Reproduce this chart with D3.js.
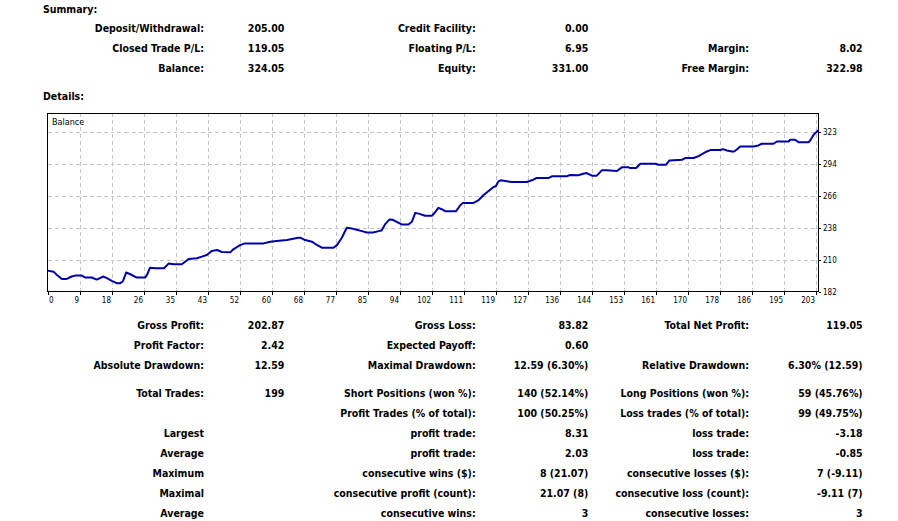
<!DOCTYPE html>
<html>
<head>
<meta charset="utf-8">
<script src="https://cdn.jsdelivr.net/npm/d3@7"></script>
<style>
  body { margin: 0; background: #fff; }
  text { fill: #000; }
  .bold { font-family: "DejaVu Sans Condensed", "DejaVu Sans", sans-serif; font-stretch: condensed; font-weight: bold; font-size: 10.5px; }
  .small { font-family: "DejaVu Sans Condensed", "DejaVu Sans", sans-serif; font-stretch: condensed; font-size: 8px; }
  .axis path, .axis line { stroke: #000; shape-rendering: crispEdges; }
  .grid line { stroke: #c4c4c4; stroke-dasharray: 4,3; shape-rendering: crispEdges; }
  .grid path { display: none; }
</style>
</head>
<body>
<div id="here"></div>
<script>
// DATA
// balance curve (deal number, balance)
const dealIndex = [0, 1.6, 2.5, 3.8, 5.1, 6.4, 7.3, 9.1, 10.0, 11.7, 13.0, 14.8, 15.7, 17.0, 18.3, 19.2, 19.9, 20.8, 21.9, 23.6,
  25.8, 26.3, 27.1, 28.5, 30.8, 32.0, 33.3, 35.5, 37.3, 39.5, 40.8, 42.1, 43.4, 44.8, 46.1, 48.3, 49.2, 50.9, 52.2, 57.1,
  58.9, 60.6, 63.3, 64.6, 66.3, 66.8, 68.1, 69.9, 71.2, 72.5, 75.6, 76.5, 77.8, 79.1, 80.4, 81.7, 83.1, 84.4, 86.1, 87.5,
  88.3, 89.2, 90.4, 91.3, 92.3, 93.6, 95.4, 96.3, 97.2, 98.3, 99.8, 101.6, 102.4, 103.3, 104.2, 105.1, 108.0, 109.1, 109.8, 112.6,
  113.9, 115.2, 116.5, 117.9, 118.5, 119.2, 119.8, 121.0, 122.7, 126.7, 128.0, 129.3, 132.4, 133.3, 137.2, 138.1, 140.3, 141.6, 142.5, 143.9,
  145.2, 146.5, 147.8, 150.5, 151.8, 153.6, 154.0, 155.6, 156.7, 160.6, 161.5, 163.5, 164.4, 167.7, 168.5, 170.8, 172.1, 173.0, 174.3, 175.2,
  177.8, 178.5, 179.6, 180.9, 181.5, 182.2, 183.1, 186.6, 187.9, 188.8, 191.9, 192.8, 195.9, 196.3, 197.6, 198.5, 201.2, 201.6, 202.5, 203.4, 203.8];
const balance = [200.4, 199.5, 196.6, 193.1, 193.1, 195.2, 196.0, 196.0, 194.3, 194.3, 192.5, 195.2, 193.7, 191.4, 189.3, 189.3, 190.8, 198.7, 197.2, 194.3,
  194.3, 196.6, 203.0, 202.5, 202.5, 206.6, 206.0, 206.0, 210.7, 211.3, 212.7, 214.2, 217.7, 218.6, 216.8, 216.5, 219.4, 222.9, 224.4, 224.4,
  225.9, 226.5, 227.3, 228.2, 229.4, 229.4, 227.3, 225.9, 223.0, 220.6, 220.6, 222.9, 229.4, 238.2, 237.6, 236.4, 235.2, 234.0, 234.0, 235.2,
  235.8, 241.1, 245.5, 245.2, 243.4, 241.1, 241.1, 243.4, 251.3, 250.4, 248.7, 248.7, 251.6, 255.7, 254.5, 252.8, 252.8, 258.0, 260.1, 260.1,
  262.4, 266.8, 270.3, 274.1, 274.7, 279.1, 280.0, 279.4, 278.5, 278.5, 280.0, 282.0, 282.0, 283.5, 283.5, 284.7, 284.4, 285.8, 286.4, 284.1,
  284.1, 288.8, 288.8, 288.2, 291.4, 291.4, 290.8, 290.8, 294.6, 294.6, 293.7, 293.7, 297.5, 298.1, 299.6, 299.6, 301.3, 303.1, 305.4, 306.6,
  306.6, 307.5, 306.3, 305.4, 305.4, 307.2, 309.8, 309.8, 310.7, 312.2, 312.2, 314.2, 314.2, 315.7, 315.7, 313.6, 313.6, 315.1, 320.1, 323.0, 324.0];

const xTickLabels = ["0", "9", "18", "26", "35", "43", "52", "60", "68", "77", "85", "94", "102", "111", "119", "127",
  "136", "144", "153", "161", "170", "178", "186", "195", "203"];
const yTickLabels = ["182", "210", "238", "266", "294", "323"];
const yMin = 182, yMax = 323, xLast = 203;

const summaryRows = [
  ["Deposit/Withdrawal:", "205.00", "Credit Facility:", "0.00", "", ""],
  ["Closed Trade P/L:", "119.05", "Floating P/L:", "6.95", "Margin:", "8.02"],
  ["Balance:", "324.05", "Equity:", "331.00", "Free Margin:", "322.98"]
];
const detailRows = [
  ["Gross Profit:", "202.87", "Gross Loss:", "83.82", "Total Net Profit:", "119.05"],
  ["Profit Factor:", "2.42", "Expected Payoff:", "0.60", "", ""],
  ["Absolute Drawdown:", "12.59", "Maximal Drawdown:", "12.59 (6.30%)", "Relative Drawdown:", "6.30% (12.59)"],
  ["Total Trades:", "199", "Short Positions (won %):", "140 (52.14%)", "Long Positions (won %):", "59 (45.76%)"],
  ["", "", "Profit Trades (% of total):", "100 (50.25%)", "Loss trades (% of total):", "99 (49.75%)"],
  ["Largest", "", "profit trade:", "8.31", "loss trade:", "-3.18"],
  ["Average", "", "profit trade:", "2.03", "loss trade:", "-0.85"],
  ["Maximum", "", "consecutive wins ($):", "8 (21.07)", "consecutive losses ($):", "7 (-9.11)"],
  ["Maximal", "", "consecutive profit (count):", "21.07 (8)", "consecutive loss (count):", "-9.11 (7)"],
  ["Average", "", "consecutive wins:", "3", "consecutive losses:", "3"]
];

// LAYOUT
const width = 898, height = 521;
const colRight = [204, 284.3, 475.7, 588.3, 749, 862.7];
const summaryBaselines = [32, 52, 72];
const detailBaselines = [329, 349, 369, 397, 417, 437, 457, 477, 497, 517];
const plot = { left: 47.5, top: 113.5, right: 818.5, bottom: 291.5 };

// Create SVG canvas
var svg = d3.select("#here")
  .append("svg")
  .attr("width", width)
  .attr("height", height);

svg.append("rect").attr("width", width).attr("height", height).attr("fill", "#fff");

// headings
svg.append("text").attr("class", "bold").attr("x", 43).attr("y", 12.5).text("Summary:");
svg.append("text").attr("class", "bold").attr("x", 43).attr("y", 99.5).text("Details:");

// table rows, every cell right aligned on its column
function drawTable(rows, baselines) {
  rows.forEach(function(row, r) {
    svg.append("g")
      .selectAll("text")
      .data(row)
      .join("text")
      .attr("class", "bold")
      .attr("x", function(d, i) { return colRight[i]; })
      .attr("y", baselines[r])
      .attr("text-anchor", "end")
      .text(function(d) { return d; });
  });
}
drawTable(summaryRows, summaryBaselines);
drawTable(detailRows, detailBaselines);

// scales
const x = d3.scaleLinear()
  .domain([0, xLast])
  .range([plot.left, plot.left + 768]);
const y = d3.scaleLinear()
  .domain([yMin, yMax])
  .range([plot.bottom, plot.bottom - 160]);

const xTickValues = xTickLabels.map(function(d, i) { return i * xLast / (xTickLabels.length - 1); });
const yTickValues = yTickLabels.map(function(d, i) { return yMin + i * (yMax - yMin) / (yTickLabels.length - 1); });

// gridlines
svg.append("g")
  .attr("class", "grid")
  .attr("transform", `translate(0, ${plot.bottom})`)
  .call(d3.axisBottom(x).tickValues(xTickValues.slice(1)).tickSize(-(plot.bottom - plot.top)).tickFormat(""));
svg.append("g")
  .attr("class", "grid")
  .attr("transform", `translate(${plot.left}, 0)`)
  .call(d3.axisLeft(y).tickValues(yTickValues.slice(1)).tickSize(-(plot.right - plot.left)).tickFormat(""));

// frame
svg.append("rect")
  .attr("x", plot.left)
  .attr("y", plot.top)
  .attr("width", plot.right - plot.left)
  .attr("height", plot.bottom - plot.top)
  .attr("fill", "none")
  .attr("stroke", "#000")
  .attr("shape-rendering", "crispEdges");

// x axis
const xAxis = svg.append("g")
  .attr("class", "axis small")
  .attr("transform", `translate(0, ${plot.bottom})`)
  .call(d3.axisBottom(x).tickValues(xTickValues).tickSize(3)
    .tickFormat(function(d, i) { return xTickLabels[i]; }));
xAxis.select(".domain").remove();
xAxis.selectAll("text")
  .attr("font-family", null).attr("font-size", null)
  .attr("y", 11.5).attr("dy", null)
  .attr("x", function(d, i) { return i === 0 ? 1 : -1; })
  .attr("text-anchor", function(d, i) { return i === 0 ? "start" : "end"; });
xAxis.attr("font-family", null).attr("font-size", null);

// y axis on the right
const yAxis = svg.append("g")
  .attr("class", "axis small")
  .attr("transform", `translate(${plot.right}, 0)`)
  .call(d3.axisRight(y).tickValues(yTickValues).tickSize(2)
    .tickFormat(function(d, i) { return yTickLabels[i]; }));
yAxis.select(".domain").remove();
yAxis.attr("font-family", null).attr("font-size", null);
yAxis.selectAll("text").attr("x", 4.5);

// balance line
const points = dealIndex.map(function(d, i) { return [d, balance[i]]; });
svg.append("path")
  .datum(points)
  .attr("fill", "none")
  .attr("stroke", "#0000aa")
  .attr("stroke-width", 2)
  .attr("stroke-linejoin", "round")
  .attr("d", d3.line()
    .x(function(d) { return x(d[0]); })
    .y(function(d) { return y(d[1]); }));

// chart caption
svg.append("text")
  .attr("class", "small")
  .attr("x", 52)
  .attr("y", 125)
  .style("font-size", "9px")
  .text("Balance");
</script>
</body>
</html>
